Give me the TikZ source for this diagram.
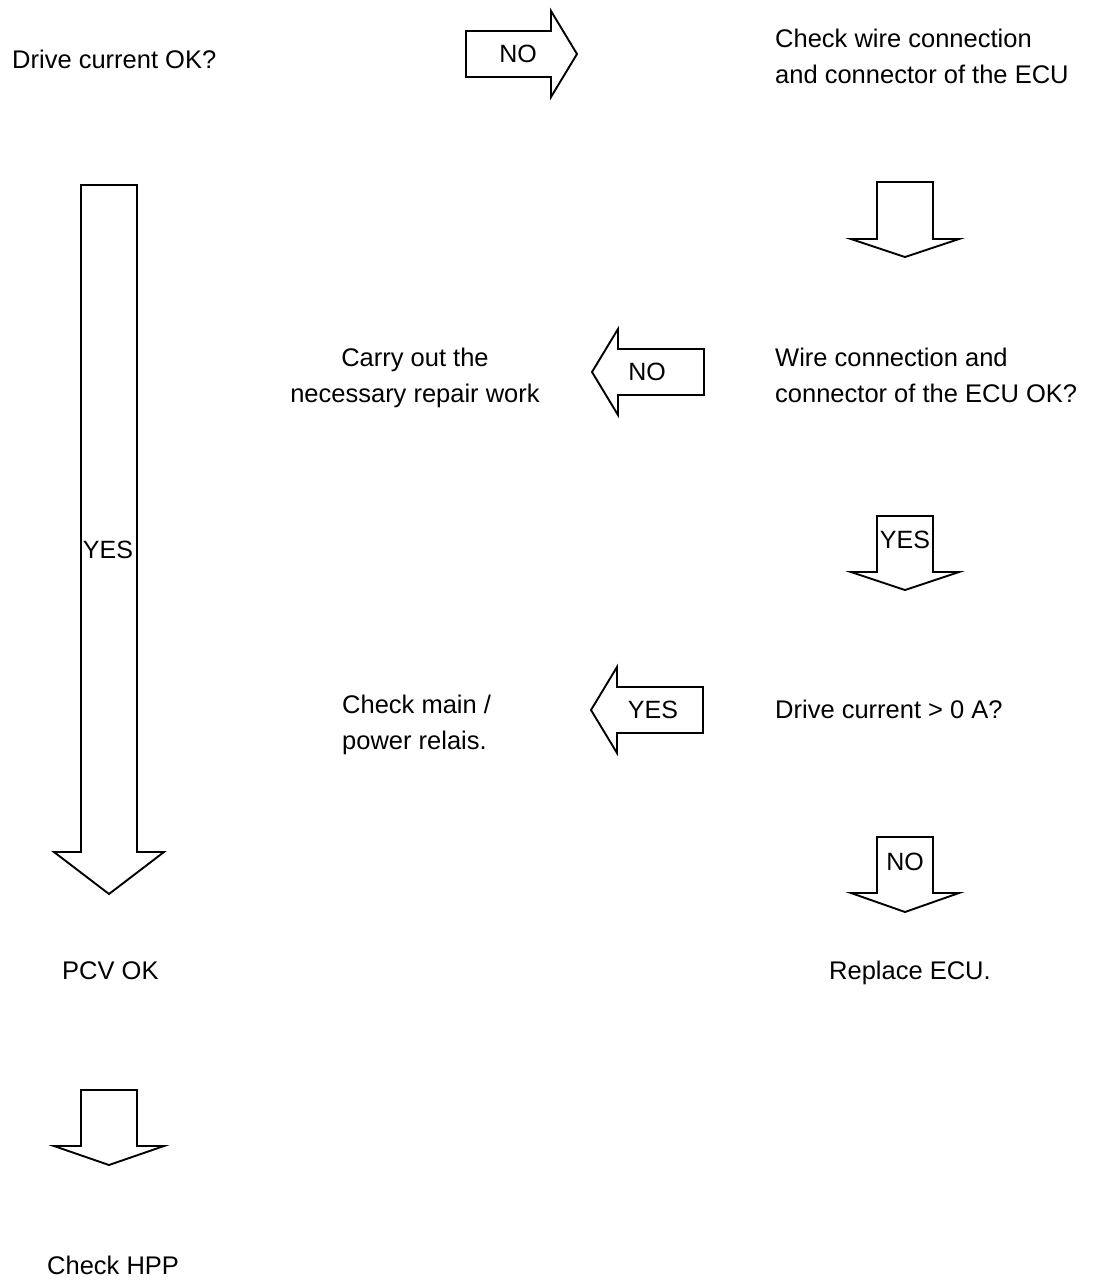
\documentclass[tikz,border=0pt]{standalone}
\usepackage{fontspec}
\setmainfont{Liberation Sans}
\usetikzlibrary{positioning}

\begin{document}
\begin{tikzpicture}[x=1pt, y=-1pt,
    blockarrow/.style={draw=black, line width=1.9pt, fill=white},
    txt/.style={inner sep=0pt, anchor=base west, align=left, font=\fontsize{25.5}{36}\selectfont},
    lbl/.style={inner sep=0pt, font=\fontsize{25}{30}\selectfont}]
  \useasboundingbox (0,0) rectangle (1097,1283);

  \draw[blockarrow] (466,31) -- (551,31) -- (551,11) -- (577,54) -- (551,97) -- (551,77) -- (466,77) -- cycle;
  \draw[blockarrow] (877,182) -- (933,182) -- (933,239) -- (959,239) -- (905,257) -- (851,239) -- (877,239) -- cycle;
  \draw[blockarrow] (704,349) -- (618,349) -- (618,329) -- (592,372) -- (618,415) -- (618,395) -- (704,395) -- cycle;
  \draw[blockarrow] (877,516) -- (933,516) -- (933,572) -- (959,572) -- (905,590) -- (851,572) -- (877,572) -- cycle;
  \draw[blockarrow] (703,687) -- (617,687) -- (617,667) -- (591,710) -- (617,753) -- (617,733) -- (703,733) -- cycle;
  \draw[blockarrow] (877,837) -- (933,837) -- (933,893) -- (959,893) -- (905,912) -- (851,893) -- (877,893) -- cycle;
  \draw[blockarrow] (81,185) -- (137,185) -- (137,852) -- (164,852) -- (109,894) -- (54,852) -- (81,852) -- cycle;
  \draw[blockarrow] (81,1090) -- (137,1090) -- (137,1146) -- (164,1146) -- (109,1165) -- (54,1146) -- (81,1146) -- cycle;

  \node[lbl] (noright) at (518,54) {NO};
  \node[lbl] (noleft) at (647,372) {NO};
  \node[lbl] (yesdown) at (905,540) {YES};
  \node[lbl] (yesleft) at (653,710) {YES};
  \node[lbl] (yeslong) at (108,550) {YES};
  \node[lbl] (nodown) at (905,862) {NO};

  \node[txt] (drivecur) at (12,68) {Drive current OK?};
  \node[txt] (checkwire) at (775,83) {Check wire connection\\and connector of the ECU};
  \node[txt, align=center, anchor=base] (repair) at (415,402) {Carry out the\\necessary repair work};
  \node[txt] (wireok) at (775,402) {Wire connection and\\connector of the ECU OK?};
  \node[txt] (drivezero) at (775,718) {Drive current > 0 A?};
  \node[txt] (checkrelais) at (342,749) {Check main /\\power relais.};
  \node[txt] (pcvok) at (62,979) {PCV OK};
  \node[txt] (replaceecu) at (829,979) {Replace ECU.};
  \node[txt] (checkhpp) at (47,1274) {Check HPP};
\end{tikzpicture}
\end{document}
